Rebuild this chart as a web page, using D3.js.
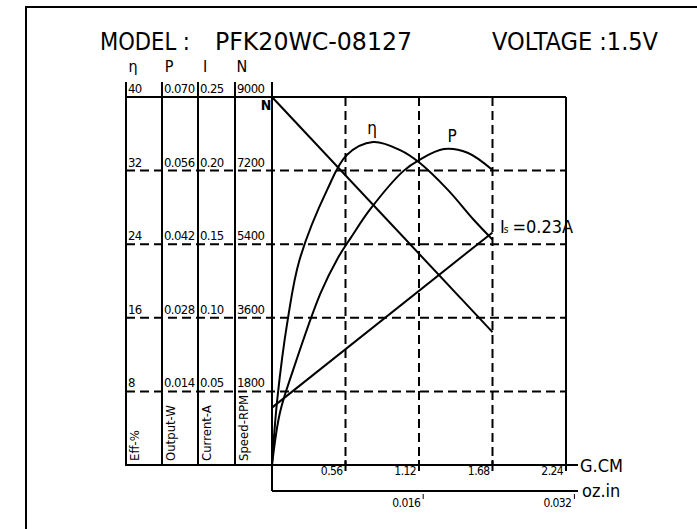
<!DOCTYPE html>
<html>
<head>
<meta charset="utf-8">
<script src="https://cdn.jsdelivr.net/npm/d3@7"></script>
<style>
  body { margin: 0; background: #fff; }
  svg text { font-family: "DejaVu Sans Condensed", "DejaVu Sans", sans-serif; font-stretch: condensed; fill: #000; }
</style>
</head>
<body>
<div id="chart"></div>
<script>
// torque in G.CM
var effTorque = [0, 0.04, 0.12, 0.21, 0.42, 0.57, 0.77, 0.98, 1.12, 1.34, 1.54, 1.68];
var effValues = [0, 7.1, 15.8, 22.3, 29.9, 33.7, 35.1, 34.2, 32.9, 29.9, 26.6, 24.5];

var powTorque = [0, 0.06, 0.16, 0.37, 0.5, 0.6, 0.75, 1.0, 1.12, 1.31, 1.49, 1.68];
var powValues = [0, 0.0099, 0.0180, 0.0327, 0.0393, 0.0432, 0.0487, 0.0559, 0.058, 0.0601, 0.0594, 0.0561];

var speedTorque = [0, 1.68];
var speedValues = [9000, 3250];

var currentTorque = [0, 1.68];
var currentValues = [0.039, 0.158];

var effTicks = [8, 16, 24, 32, 40];
var powTicks = [0.014, 0.028, 0.042, 0.056, 0.070];
var curTicks = [0.05, 0.10, 0.15, 0.20, 0.25];
var spdTicks = [1800, 3600, 5400, 7200, 9000];
var gcmTicks = [0.56, 1.12, 1.68, 2.24];
var ozTicks = [0.016, 0.032];

var W = 697, H = 529;
var plotLeft = 272, plotRight = 566, plotTop = 97, plotBottom = 465;

var svg = d3.select('#chart')
   .append('svg')
   .attr('width', W)
   .attr('height', H);

var x = d3.scaleLinear().domain([0, 2.24]).range([plotLeft, plotRight]);
var xOz = d3.scaleLinear().domain([0, 2.24 / 72]).range([plotLeft, plotRight]);
var yEff = d3.scaleLinear().domain([0, 40]).range([plotBottom, plotTop]);
var yPow = d3.scaleLinear().domain([0, 0.070]).range([plotBottom, plotTop]);
var yCur = d3.scaleLinear().domain([0, 0.25]).range([plotBottom, plotTop]);
var ySpd = d3.scaleLinear().domain([0, 9000]).range([plotBottom, plotTop]);

// outer frame (right/bottom run off the page)
svg.append('path')
   .attr('d', 'M26,' + (H + 5) + 'V7H' + (W + 5))
   .attr('fill', 'none').attr('stroke', '#000').attr('stroke-width', 2);

// title
svg.append('text').attr('x', 100).attr('y', 50).attr('font-size', 24)
   .attr('textLength', 90).attr('lengthAdjust', 'spacingAndGlyphs').text('MODEL :');
svg.append('text').attr('x', 215).attr('y', 50).attr('font-size', 24)
   .attr('textLength', 197).attr('lengthAdjust', 'spacingAndGlyphs').text('PFK20WC-08127');
svg.append('text').attr('x', 492).attr('y', 50).attr('font-size', 24)
   .attr('textLength', 166).attr('lengthAdjust', 'spacingAndGlyphs').text('VOLTAGE :1.5V');

// left value columns
var columns = [
   { x: 126, sym: 'η', ticks: effTicks, scale: yEff, fmt: d3.format('d'), name: 'Eff-%' },
   { x: 162, sym: 'P', ticks: powTicks, scale: yPow, fmt: d3.format('.3f'), name: 'Output-W' },
   { x: 198, sym: 'I', ticks: curTicks, scale: yCur, fmt: d3.format('.2f'), name: 'Current-A' },
   { x: 235, sym: 'N', ticks: spdTicks, scale: ySpd, fmt: d3.format('d'), name: 'Speed-RPM' }
];

// horizontal dashed grid
svg.append('g')
   .selectAll('line')
   .data(effTicks.slice(0, 4))
   .enter()
   .append('line')
   .attr('x1', 126).attr('x2', plotRight)
   .attr('y1', function(d) { return yEff(d); })
   .attr('y2', function(d) { return yEff(d); })
   .attr('stroke', '#000').attr('stroke-width', 2)
   .attr('stroke-dasharray', '9,5');

// vertical dashed grid
svg.append('g')
   .selectAll('line')
   .data(gcmTicks.slice(0, 3))
   .enter()
   .append('line')
   .attr('x1', function(d) { return x(d); })
   .attr('x2', function(d) { return x(d); })
   .attr('y1', plotTop).attr('y2', plotBottom)
   .attr('stroke', '#000').attr('stroke-width', 2)
   .attr('stroke-dasharray', '9,5');

var colGroup = svg.append('g')
   .selectAll('g')
   .data(columns)
   .enter()
   .append('g');

colGroup.append('line')
   .attr('x1', function(d) { return d.x; })
   .attr('x2', function(d) { return d.x; })
   .attr('y1', 82).attr('y2', plotBottom + 1)
   .attr('stroke', '#000').attr('stroke-width', 2);

colGroup.append('text')
   .attr('x', function(d) { return d.x + 7; })
   .attr('y', 72)
   .attr('font-size', 16)
   .attr('text-anchor', 'middle')
   .text(function(d) { return d.sym; });

colGroup.append('text')
   .attr('transform', function(d) { return 'translate(' + (d.x + 13) + ',' + (plotBottom - 4) + ') rotate(-90)'; })
   .attr('font-size', 13)
   .text(function(d) { return d.name; });

colGroup.each(function(col) {
   d3.select(this).selectAll('text.tick')
      .data(col.ticks)
      .enter()
      .append('text')
      .attr('class', 'tick')
      .attr('x', col.x + 2)
      .attr('y', function(d) { return col.scale(d) - 4; })
      .attr('font-size', 13)
      .attr('letter-spacing', -0.6)
      .text(function(d) { return col.fmt(d); });
});

// plot frame
svg.append('line').attr('x1', plotLeft).attr('x2', plotLeft).attr('y1', 82).attr('y2', 491)
   .attr('stroke', '#000').attr('stroke-width', 2);
svg.append('line').attr('x1', 126).attr('x2', plotRight).attr('y1', plotTop).attr('y2', plotTop)
   .attr('stroke', '#000').attr('stroke-width', 2);
svg.append('line').attr('x1', plotRight).attr('x2', plotRight).attr('y1', plotTop).attr('y2', plotBottom)
   .attr('stroke', '#000').attr('stroke-width', 2);

// G.CM axis
var gAxis = svg.append('g').attr('transform', 'translate(0,' + plotBottom + ')');
gAxis.append('line').attr('x1', 126).attr('x2', 578).attr('stroke', '#000').attr('stroke-width', 2);
gAxis.selectAll('line.tk')
   .data(gcmTicks)
   .enter()
   .append('line')
   .attr('class', 'tk')
   .attr('x1', function(d) { return x(d); })
   .attr('x2', function(d) { return x(d); })
   .attr('y1', -5).attr('y2', 6)
   .attr('stroke', '#000').attr('stroke-width', 2);
gAxis.selectAll('text')
   .data(gcmTicks)
   .enter()
   .append('text')
   .attr('x', function(d) { return x(d) - 3; })
   .attr('y', 10)
   .attr('font-size', 12)
   .attr('text-anchor', 'end')
   .attr('letter-spacing', -0.6)
   .text(function(d) { return d3.format('.2f')(d); });
svg.append('text').attr('x', 580).attr('y', 472).attr('font-size', 18).text('G.CM');

// oz.in axis
var ozAxis = svg.append('g').attr('transform', 'translate(0,491)');
ozAxis.append('line').attr('x1', plotLeft).attr('x2', 578).attr('stroke', '#000').attr('stroke-width', 2);
ozAxis.selectAll('line.tk')
   .data(ozTicks)
   .enter()
   .append('line')
   .attr('class', 'tk')
   .attr('x1', function(d) { return xOz(d); })
   .attr('x2', function(d) { return xOz(d); })
   .attr('y1', 3).attr('y2', 8)
   .attr('stroke', '#000').attr('stroke-width', 1);
ozAxis.selectAll('text')
   .data(ozTicks)
   .enter()
   .append('text')
   .attr('x', function(d) { return xOz(d) - 3; })
   .attr('y', 16)
   .attr('font-size', 12)
   .attr('text-anchor', 'end')
   .attr('letter-spacing', -0.6)
   .text(function(d) { return d3.format('.3f')(d); });
svg.append('text').attr('x', 582).attr('y', 497).attr('font-size', 18).text('oz.in');

// curves
function drawCurve(tq, vals, yScale, curve) {
   var pts = tq.map(function(t, i) { return [x(t), yScale(vals[i])]; });
   svg.append('path')
      .attr('d', d3.line().curve(curve)(pts))
      .attr('fill', 'none')
      .attr('stroke', '#000')
      .attr('stroke-width', 2);
}

drawCurve(speedTorque, speedValues, ySpd, d3.curveLinear);
drawCurve(currentTorque, currentValues, yCur, d3.curveLinear);
drawCurve(effTorque, effValues, yEff, d3.curveCatmullRom.alpha(0.5));
drawCurve(powTorque, powValues, yPow, d3.curveCatmullRom.alpha(0.5));

// curve labels
svg.append('text').attr('x', 266).attr('y', 110).attr('font-size', 14).attr('font-weight', 'bold')
   .attr('text-anchor', 'middle').text('N');
svg.append('text').attr('x', 372).attr('y', 134).attr('font-size', 17).attr('text-anchor', 'middle').text('η');
svg.append('text').attr('x', 452).attr('y', 142).attr('font-size', 17).attr('text-anchor', 'middle').text('P');
var iLabel = svg.append('text').attr('x', 500).attr('y', 233).attr('font-size', 18);
iLabel.append('tspan').text('I');
iLabel.append('tspan').attr('font-size', 10).attr('dx', -1).text('s');
iLabel.append('tspan').attr('dx', 4).text('=0.23A');
</script>
</body>
</html>
